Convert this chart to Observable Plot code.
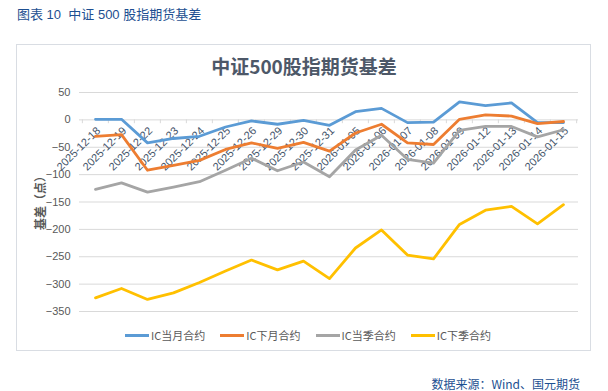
<!DOCTYPE html>
<html><head><meta charset="utf-8">
<script src="https://cdn.jsdelivr.net/npm/d3@7"></script>
<script src="https://cdn.jsdelivr.net/npm/@observablehq/plot@0.6"></script>
<style>
body{margin:0;background:#fff;font-family:"Liberation Sans","Noto Sans CJK SC",sans-serif;}
#page{position:relative;width:608px;height:391px;overflow:hidden;background:#fff;}
#hdr{position:absolute;left:17px;top:4px;font-size:13px;color:#1d4f91;font-family:"Liberation Sans","Noto Sans CJK SC",sans-serif;white-space:pre;}
#box{position:absolute;left:16px;top:44px;width:575px;height:307px;border:1px solid #d9dde3;box-sizing:border-box;}
#ttl{position:absolute;left:0;width:608px;top:52px;text-align:center;font-size:19px;font-weight:bold;color:#4d5868;font-family:"Noto Sans CJK SC",sans-serif;}
#chart{position:absolute;left:0;top:80px;}
#ylab{position:absolute;left:39px;top:200px;transform:translate(-50%,-50%) rotate(-90deg);font-size:12px;font-weight:bold;color:#595959;white-space:nowrap;font-family:"Noto Sans CJK SC",sans-serif;}
#legend{position:absolute;top:327px;left:4px;width:608px;display:flex;justify-content:center;gap:15px;font-size:11px;color:#595959;font-family:"Noto Sans CJK SC",sans-serif;}
#legend .it{display:flex;align-items:center;}
#legend .sw{display:inline-block;width:24px;height:3px;margin-right:2px;}
#src{position:absolute;right:28px;top:375px;font-size:12px;color:#1d4f91;font-family:"Noto Sans CJK SC",sans-serif;}
</style></head>
<body><div id="page">
<div id="hdr">图表 10  中证 500 股指期货基差</div>
<div id="box"></div>
<div id="ttl">中证500股指期货基差</div>
<div id="chart"></div>
<div id="ylab">基差（点）</div>
<div id="legend"></div>
<div id="src">数据来源：Wind、国元期货</div>
</div>
<script>
const dates = ["2025-12-18","2025-12-19","2025-12-22","2025-12-23","2025-12-24","2025-12-25","2025-12-26","2025-12-29","2025-12-30","2025-12-31","2026-01-05","2026-01-06","2026-01-07","2026-01-08","2026-01-09","2026-01-12","2026-01-13","2026-01-14","2026-01-15"];
const icCurMonth = [1, 1, -42, -34, -30, -13, -2, -8, -1, -10, 15, 21, -5, -4, 33, 26, 31, -5, -5];
const icNextMonth = [-30, -27, -92, -83, -74, -54, -42, -52, -41, -57, -24, -8, -42, -45, 1, 9, 7, -7, -3];
const icCurQuarter = [-127, -115, -132, -123, -113, -92, -70, -93, -77, -104, -55, -28, -72, -79, -19, -12, -12, -31, -18];
const icNextQuarter = [-325, -308, -328, -316, -297, -276, -256, -274, -258, -290, -234, -201, -247, -254, -191, -165, -158, -190, -155];
const seriesNames = ["IC当月合约","IC下月合约","IC当季合约","IC下季合约"];
const seriesColors = ["#5b9bd5","#ed7d31","#a5a5a5","#ffc000"];
const yTicks = [50, 0, -50, -100, -150, -200, -250, -300, -350];

const seriesValues = [icCurMonth, icNextMonth, icCurQuarter, icNextQuarter];
const rows = seriesNames.flatMap((name, s) => seriesValues[s].map((v, i) => ({date: dates[i], value: v, series: name})));

const W = 608, H = 240, mL = 79, mR = 30;
const step = (W - mL - mR) / dates.length;
const font = '"Liberation Sans","Noto Sans CJK SC",sans-serif';

const chart = Plot.plot({
  width: W, height: H, marginLeft: mL, marginRight: mR, marginTop: 12, marginBottom: 9,
  style: {fontFamily: font, fontSize: "11px", color: "#595959", background: "transparent"},
  x: {type: "point", domain: dates, padding: 0.5, axis: null},
  y: {domain: [-350, 50], axis: null},
  color: {domain: seriesNames, range: seriesColors},
  marks: [
    Plot.gridY(yTicks, {stroke: "#d9d9d9", strokeOpacity: 1}),
    Plot.axisY(yTicks, {tickSize: 0, tickPadding: 9, label: null, fill: "#595959", fontSize: 11}),
    Plot.ruleX(dates, {x: d => d, y1: 0, y2: -7, dx: -step / 2, stroke: "#d9d9d9"}),
    Plot.ruleX([dates[dates.length - 1]], {x: d => d, y1: 0, y2: -7, dx: step / 2, stroke: "#d9d9d9"}),
    Plot.text(dates, {x: d => d, y: () => 0, text: d => d, rotate: -45, textAnchor: "end", dx: 3, dy: 9, fill: "#44546a", fontSize: 11}),
    Plot.line(rows, {x: "date", y: "value", stroke: "series", z: "series", strokeWidth: 2.8, strokeLinejoin: "round", strokeLinecap: "round"})
  ]
});
document.getElementById("chart").appendChild(chart);

const legend = document.getElementById("legend");
seriesNames.forEach((n, i) => {
  const it = document.createElement("div"); it.className = "it";
  const sw = document.createElement("span"); sw.className = "sw"; sw.style.background = seriesColors[i];
  const tx = document.createElement("span"); tx.textContent = n;
  it.appendChild(sw); it.appendChild(tx); legend.appendChild(it);
});
</script>
</body></html>
